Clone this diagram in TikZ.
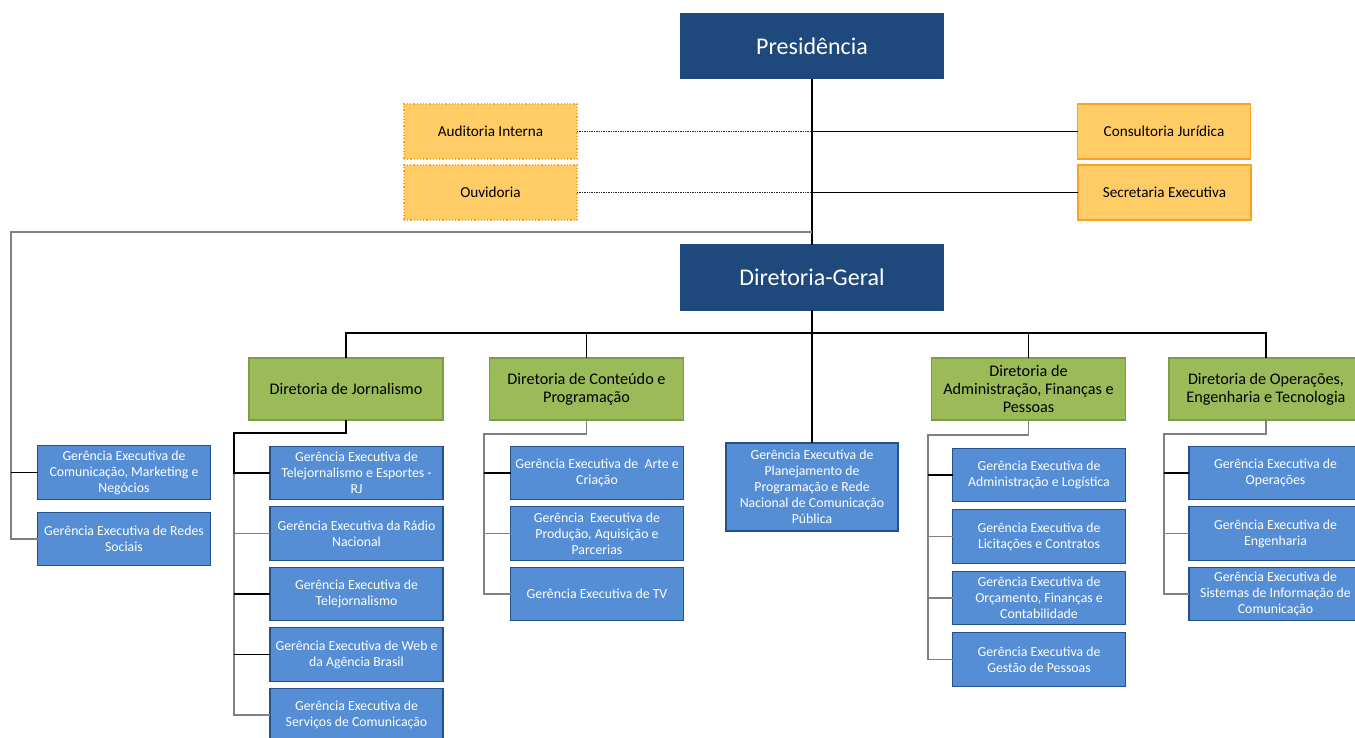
\documentclass[tikz,border=0pt]{standalone}
\usepackage{fontspec}
\setmainfont{Carlito}
\usetikzlibrary{positioning}
\definecolor{presblue}{HTML}{1F497D}
\definecolor{stafffill}{HTML}{FFCC66}
\definecolor{staffdraw}{HTML}{F8A326}
\definecolor{dirfill}{HTML}{9BBB59}
\definecolor{dirdraw}{HTML}{7E9C46}
\definecolor{gerfill}{HTML}{558ED5}
\definecolor{gerdraw}{HTML}{23508E}
\definecolor{linegray}{HTML}{808080}
\tikzset{
  orgbox/.style n args={3}{
    rectangle,
    minimum width=#1,
    inner sep=0pt,
    outer sep=0pt,
    align=center,
    line width=1.2pt,
    draw=#2,
    fill=#3,
  }
}
\tikzset{
  presnode/.style={orgbox={262pt}{presblue}{presblue}, minimum height=65pt, text=white, font=\fontsize{24}{28}\selectfont},
  staffnode/.style={orgbox={173pt}{staffdraw}{stafffill}, minimum height=55pt, font=\fontsize{15.2}{18}\selectfont},
  dirnode/.style={orgbox={194pt}{dirdraw}{dirfill}, minimum height=62pt, font=\fontsize{16.2}{18}\selectfont},
  gernode/.style={orgbox={173pt}{gerdraw}{gerfill}, minimum height=53.5pt, text=white, font=\fontsize{13.8}{16}\selectfont},
}
\def\gersep{7pt}
\begin{document}
\begin{tikzpicture}[x=1pt, y=-1pt, line width=1.1pt]
    \useasboundingbox (0,0) rectangle (1355,737);
    \node[presnode] (pres) at (812,46) {Presidência};
    \node[staffnode, dotted] (aud) at (490.5,131.5) {Auditoria Interna};
    \node[staffnode, dotted] (ouv) at (490.5,192.5) {Ouvidoria};
    \node[staffnode] (cons) at (1164,131.5) {Consultoria Jurídica};
    \node[staffnode] (sec) at (1164.5,192.5) {Secretaria Executiva};
    \node[presnode] (dg) at (812,277.5) {Diretoria-Geral};

    %% Diretorias
    \node[dirnode] (dj) at (346,389) {Diretoria de Jornalismo};
    \node[dirnode] (dc) at (586.5,389) {Diretoria de Conteúdo e\\Programação};
    \node[dirnode] (da) at (1028.5,389) {Diretoria de\\Administração, Finanças e\\Pessoas};
    \node[dirnode] (dop) at (1266,389) {Diretoria de Operações,\\Engenharia e Tecnologia};

    %% Gerencias ligadas a Diretoria-Geral
    \node[gernode] (gl1) at (124,472.5) {Gerência Executiva de\\Comunicação, Marketing e\\Negócios};
    \node[gernode] (gl2) at (124,539) {Gerência Executiva de Redes\\Sociais};
    \node[gernode, minimum width=172pt, minimum height=88pt] (gp) at (812,487) {Gerência Executiva de\\Planejamento de\\Programação e Rede\\Nacional de Comunicação\\Pública};

    %% Jornalismo
    \node[gernode] (gj1) at (356.5,473) {Gerência Executiva de\\Telejornalismo e Esportes -\\RJ};
    \node[gernode, below=\gersep of gj1] (gj2) {Gerência Executiva da Rádio\\Nacional};
    \node[gernode, below=\gersep of gj2] (gj3) {Gerência Executiva de\\Telejornalismo};
    \node[gernode, below=\gersep of gj3] (gj4) {Gerência Executiva de Web e\\da Agência Brasil};
    \node[gernode, below=\gersep of gj4] (gj5) {Gerência Executiva de\\Serviços de Comunicação};

    %% Conteudo
    \node[gernode] (gc1) at (597,473) {Gerência Executiva de~ Arte e\\Criação};
    \node[gernode, below=\gersep of gc1] (gc2) {Gerência~ Executiva de\\Produção, Aquisição e\\Parcerias};
    \node[gernode, below=\gersep of gc2] (gc3) {Gerência Executiva de TV};

    %% Administracao
    \node[gernode] (ga1) at (1039,475) {Gerência Executiva de\\Administração e Logística};
    \node[gernode, below=8pt of ga1] (ga2) {Gerência Executiva de\\Licitações e Contratos};
    \node[gernode, below=8pt of ga2] (ga3) {Gerência Executiva de\\Orçamento, Finanças e\\Contabilidade};
    \node[gernode, below=8pt of ga3] (ga4) {Gerência Executiva de\\Gestão de Pessoas};

    %% Operacoes
    \node[gernode] (go1) at (1275.5,473) {Gerência Executiva de\\Operações};
    \node[gernode, below=\gersep of go1] (go2) {Gerência Executiva de\\Engenharia};
    \node[gernode, below=\gersep of go2] (go3) {Gerência Executiva de\\Sistemas de Informação de\\Comunicação};

    %% Presidencia and staff
    \coordinate (staff1) at (812,131.5);
    \coordinate (staff2) at (812,192.5);
    \draw (pres) -- (dg);
    \draw[densely dotted, line width=1.4pt, black!85] (aud) -- (staff1);
    \draw (staff1) -- (cons);
    \draw[densely dotted, line width=1.4pt, black!85] (ouv) -- (staff2);
    \draw (staff2) -- (sec);

    %% Left branch
    \coordinate (trunk) at (812,232);
    \coordinate (lbus) at (11,232);
    \draw[linegray] (trunk) -- (lbus) |- (gl2);
    \draw (lbus |- gl1) -- (gl1);

    %% Bus to diretorias
    \coordinate (bus) at (812,333);
    \draw (dj) |- (bus) -| (dop);
    \draw (dc) |- (bus);
    \draw (da) |- (bus);
    \draw (dg) -- (gp);

    %% Jornalismo bracket
    \coordinate (jl) at (234,433);
    \draw[linegray] (jl) |- (gj5);
    \draw[linegray] (jl) |- (gj2);
    \draw (dj) |- (jl) |- (gj1);
    \draw (jl |- gj3) -- (gj3);
    \draw (jl |- gj4) -- (gj4);

    %% Conteudo bracket
    \coordinate (cl) at (484,434);
    \draw[linegray] (dc) |- (cl) |- (gc3);
    \draw[linegray] (cl) |- (gc2);
    \draw (cl |- gc1) -- (gc1);

    %% Administracao bracket
    \coordinate (al) at (928,435);
    \draw[linegray] (da) |- (al) |- (ga4);
    \draw[linegray] (al) |- (ga2);
    \draw[linegray] (al) |- (ga3);
    \draw (al |- ga1) -- (ga1);

    %% Operacoes bracket
    \coordinate (ol) at (1164,434);
    \draw[linegray] (dop) |- (ol) |- (go3);
    \draw[linegray] (ol) |- (go2);
    \draw (ol |- go1) -- (go1);
\end{tikzpicture}
\end{document}
